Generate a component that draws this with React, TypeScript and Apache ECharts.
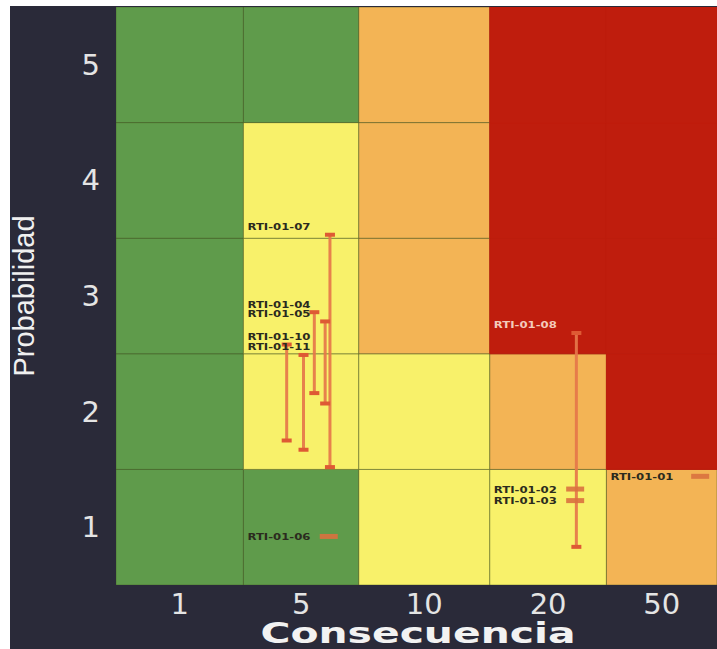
import React, { useEffect, useRef } from "react";
import * as echarts from "echarts";

// ---- data ----
const consequenceLabels = ["1", "5", "10", "20", "50"];
const probabilityLabels = ["1", "2", "3", "4", "5"];
// column boundaries in axis units (source columns have unequal widths)
const columnEdges = [0, 1.06, 2.02, 3.11, 4.08, 5];
const rowEdges = [0, 1, 2, 3, 4, 5];
// risk level per cell, rows from probability 1 (bottom) to 5 (top)
const cellLevels = [
  ["G", "G", "Y", "Y", "O"],
  ["G", "Y", "Y", "O", "R"],
  ["G", "Y", "O", "R", "R"],
  ["G", "Y", "O", "R", "R"],
  ["G", "G", "O", "R", "R"],
];
const levelKeys = ["G", "Y", "O", "R"];

const riskNames = [
  "RTI-01-07", "RTI-01-04", "RTI-01-05", "RTI-01-10", "RTI-01-11",
  "RTI-01-06", "RTI-01-08", "RTI-01-02", "RTI-01-03", "RTI-01-01",
];
const riskColumn = [1, 1, 1, 1, 1, 1, 3, 3, 3, 4];
const riskX = [1.78, 1.65, 1.74, 1.42, 1.56, 1.77, 3.83, 3.82, 3.82, 4.86];
const riskInitial = [3.03, 2.36, 2.28, 2.08, 1.99, 0.42, 2.18, 0.83, 0.73, 0.94];
const riskResidual = [1.02, 1.66, 1.57, 1.25, 1.17, 0.42, 0.33, 0.83, 0.73, 0.94];

// ---- styles ----
const levelColors: Record<string, string> = {
  G: "#5f9b4b",
  Y: "#f8f16a",
  O: "#f3b455",
  R: "#bf1d0d",
};
const lineColor = "#e5774a";
const capColor = "#de5a34";
const dashColor = "#d9713f";

const colCenters = consequenceLabels.map((_, i) => (columnEdges[i] + columnEdges[i + 1]) / 2);
const rowCenters = probabilityLabels.map((_, i) => (rowEdges[i] + rowEdges[i + 1]) / 2);

export default function App() {
  const ref = useRef<HTMLDivElement>(null);

  useEffect(() => {
    if (!ref.current) return;
    const chart = echarts.init(ref.current, undefined, { renderer: "svg" });

    const cellData: number[][] = [];
    cellLevels.forEach((row, r) =>
      row.forEach((lvl, c) => cellData.push([c, r, levelKeys.indexOf(lvl)]))
    );
    const riskData = riskNames.map((_, i) => [riskX[i], riskInitial[i], riskResidual[i], riskColumn[i], i]);

    const option: any = {
      animation: false,
      backgroundColor: "transparent",
      graphic: [
        {
          type: "rect",
          z: -10,
          shape: { x: 10, y: 6, width: 707, height: 643 },
          style: { fill: "#2a2a39" },
        },
        {
          type: "text",
          z: 10,
          x: 418,
          y: 633,
          scaleX: 1.46,
          style: {
            text: "Consecuencia",
            fill: "#f2f2f2",
            fontSize: 28,
            fontWeight: "bold",
            fontFamily: "DejaVu Sans",
            align: "center",
            verticalAlign: "middle",
          },
        },
      ],
      grid: { left: 116, top: 7, width: 609, height: 578 },
      xAxis: {
        type: "value",
        min: 0,
        max: 5,
        axisLine: { show: false },
        axisTick: { show: false },
        splitLine: { show: false },
        axisLabel: {
          customValues: colCenters,
          formatter: (v: number) => {
            const i = colCenters.findIndex((c) => Math.abs(c - v) < 1e-6);
            return i >= 0 ? consequenceLabels[i] : "";
          },
          color: "#e4e4e4",
          fontSize: 29,
          fontFamily: "DejaVu Sans",
          margin: 4,
        },
      },
      yAxis: {
        type: "value",
        min: 0,
        max: 5,
        name: "Probabilidad",
        nameLocation: "middle",
        nameRotate: 90,
        nameGap: 78,
        nameTextStyle: {
          color: "#f0f0f0",
          fontSize: 29,
          fontFamily: "Liberation Sans",
        },
        axisLine: { show: false },
        axisTick: { show: false },
        splitLine: { show: false },
        axisLabel: {
          customValues: rowCenters,
          formatter: (v: number) => {
            const i = rowCenters.findIndex((c) => Math.abs(c - v) < 1e-6);
            return i >= 0 ? probabilityLabels[i] : "";
          },
          color: "#e4e4e4",
          fontSize: 29,
          fontFamily: "DejaVu Sans",
          margin: 16,
        },
      },
      series: [
        {
          type: "custom",
          z: 1,
          clip: true,
          data: cellData,
          renderItem: (params: any, api: any) => {
            const c = api.value(0);
            const r = api.value(1);
            const lvl = levelKeys[api.value(2)];
            const tl = api.coord([columnEdges[c], rowEdges[r + 1]]);
            const br = api.coord([columnEdges[c + 1], rowEdges[r]]);
            const fill = levelColors[lvl];
            return {
              type: "rect",
              shape: { x: tl[0], y: tl[1], width: br[0] - tl[0], height: br[1] - tl[1] },
              style: {
                fill,
                stroke: lvl === "R" ? fill : "rgba(70,90,30,0.45)",
                lineWidth: 1,
              },
            };
          },
        },
        {
          type: "custom",
          z: 5,
          data: riskData,
          renderItem: (params: any, api: any) => {
            const x = api.value(0);
            const y0 = api.value(1);
            const y1 = api.value(2);
            const col = api.value(3);
            const idx = api.value(4);
            const pTop = api.coord([x, y0]);
            const pBot = api.coord([x, y1]);
            const colLeft = api.coord([columnEdges[col], 0])[0];
            const moving = Math.abs(y0 - y1) > 1e-6;
            const children: any[] = [];
            if (moving) {
              children.push({
                type: "line",
                shape: { x1: pTop[0], y1: pTop[1], x2: pBot[0], y2: pBot[1] },
                style: { stroke: lineColor, lineWidth: 3, opacity: 0.92 },
              });
              [pTop, pBot].forEach((p) =>
                children.push({
                  type: "rect",
                  shape: { x: p[0] - 5, y: p[1] - 2, width: 10, height: 4 },
                  style: { fill: capColor },
                })
              );
            } else {
              children.push({
                type: "rect",
                shape: { x: pTop[0] - 9, y: pTop[1] - 2.5, width: 18, height: 5 },
                style: { fill: dashColor, opacity: 0.9 },
              });
            }
            const onRed = idx === 6;
            children.push({
              type: "text",
              x: colLeft + 4,
              y: moving ? pTop[1] - 8 : pTop[1],
              scaleX: 1.3,
              style: {
                text: riskNames[idx],
                fill: onRed ? "#f4cbbb" : "#2b2b1e",
                fontSize: 9,
                fontWeight: "bold",
                fontFamily: "DejaVu Sans",
                align: "left",
                verticalAlign: "middle",
              },
            });
            return { type: "group", children };
          },
        },
      ],
    };

    chart.setOption(option);
    return () => chart.dispose();
  }, []);

  return (
    <div
      ref={ref}
      style={{
        position: "absolute",
        left: 0,
        top: 0,
        width: 717,
        height: 649,
        background: "#ffffff",
      }}
    />
  );
}
